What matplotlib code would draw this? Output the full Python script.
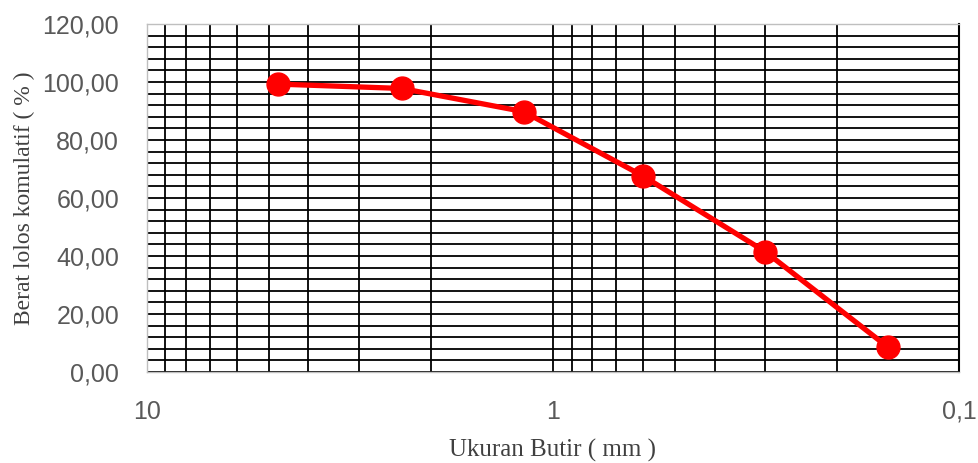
import numpy as np
import matplotlib.pyplot as plt
from matplotlib.ticker import MultipleLocator, LogLocator, FuncFormatter, NullFormatter

# hasil analisa saringan
ukuran = [4.75, 2.36, 1.18, 0.60, 0.30, 0.15]      # mm
lolos = [99.3, 97.8, 89.8, 67.6, 41.5, 8.7]         # % lolos kumulatif

y_ticks = [0, 20, 40, 60, 80, 100, 120]
x_ticks = [10, 1, 0.1]

tick_color = "#595959"
grid_color = "black"

fig = plt.figure(figsize=(9.79, 4.63), dpi=100)
ax = fig.add_axes([0.150, 0.1965, 0.8296, 0.7515])

ax.set_xscale("log")
ax.set_xlim(10, 0.1)
ax.set_ylim(0, 120)

ax.set_xticks(x_ticks)
ax.xaxis.set_minor_locator(LogLocator(base=10, subs=np.arange(2, 10)))
ax.xaxis.set_minor_formatter(NullFormatter())
ax.xaxis.set_major_formatter(FuncFormatter(lambda v, p: f"{v:g}".replace(".", ",")))

ax.set_yticks(y_ticks)
ax.yaxis.set_minor_locator(MultipleLocator(4))
ax.yaxis.set_major_formatter(FuncFormatter(lambda v, p: f"{v:.2f}".replace(".", ",")))

ax.grid(True, which="both", color=grid_color, linewidth=1.3)
ax.set_axisbelow(True)
ax.tick_params(which="both", length=0)
ax.tick_params(axis="y", pad=20, labelsize=18, labelcolor=tick_color)
ax.tick_params(axis="x", pad=20, labelsize=18, labelcolor=tick_color)
for lab in ax.get_xticklabels() + ax.get_yticklabels():
    lab.set_fontfamily("Liberation Sans")

for side, sp in ax.spines.items():
    sp.set_color("#BFBFBF")
    sp.set_linewidth(1.0)
ax.spines["right"].set_color("black")
ax.spines["right"].set_linewidth(1.5)

ax.plot(ukuran, lolos, color="#FF0000", linewidth=3.8, marker="o",
        markersize=16.5, markerfacecolor="#FF0000", markeredgecolor="#FF0000",
        zorder=5, clip_on=False)

ax.set_xlabel("Ukuran Butir ( mm )", fontfamily="Liberation Serif", fontsize=18,
              color="#404040", labelpad=11)
ax.set_ylabel("Berat lolos komulatif ( % )", fontfamily="Liberation Serif",
              fontsize=17, color="#404040", labelpad=5)

fig.savefig("out.png", dpi=100)
